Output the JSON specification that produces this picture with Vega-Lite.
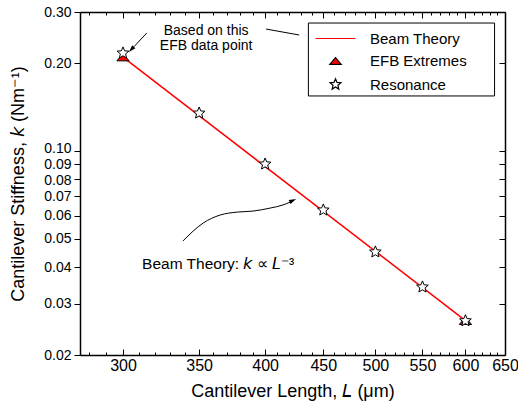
{
  "$schema": "https://vega.github.io/schema/vega-lite/v6.json",
  "width": 425,
  "height": 343,
  "autosize": "none",
  "padding": {"left": 80, "top": 12, "right": 13, "bottom": 57},
  "background": "white",
  "config": {
    "font": "Liberation Sans",
    "view": {"stroke": null},
    "axis": {"domainColor": "black", "tickColor": "black", "labelColor": "black", "titleColor": "black", "grid": false, "labelFont": "Liberation Sans", "titleFont": "Liberation Sans", "titleFontWeight": "normal", "domainWidth": 1.5, "tickWidth": 1}
  },
  "datasets": {
    "beam": [{"L": 300, "k": 0.21}, {"L": 600, "k": 0.02625}],
    "points": [
      {"L": 300, "k": 0.21, "series": "EFB Extremes"},
      {"L": 600, "k": 0.0262, "series": "EFB Extremes"},
      {"L": 300, "k": 0.217, "series": "Resonance"},
      {"L": 350, "k": 0.135, "series": "Resonance"},
      {"L": 400, "k": 0.0903, "series": "Resonance"},
      {"L": 450, "k": 0.0628, "series": "Resonance"},
      {"L": 500, "k": 0.0451, "series": "Resonance"},
      {"L": 550, "k": 0.0342, "series": "Resonance"},
      {"L": 600, "k": 0.0262, "series": "Resonance"}
    ],
    "noteTop": [
      {"L": 355, "k": 0.258, "text": "Based on this"},
      {"L": 355, "k": 0.229, "text": "EFB data point"}
    ],
    "noteBeam": [{"L": 311.8, "k": 0.041, "text": "Beam Theory: 𝘬 ∝ 𝘓⁻³"}],
    "leaders": [
      {"id": "a", "L": 314.8, "k": 0.2542},
      {"id": "a", "L": 306.7, "k": 0.228},
      {"id": "b", "L": 338.7, "k": 0.0492},
      {"id": "b", "L": 352.9, "k": 0.0567},
      {"id": "b", "L": 365.2, "k": 0.0604},
      {"id": "b", "L": 378.0, "k": 0.0618},
      {"id": "b", "L": 390.3, "k": 0.0623},
      {"id": "b", "L": 404.1, "k": 0.0638},
      {"id": "b", "L": 414.8, "k": 0.0654},
      {"id": "b", "L": 420.9, "k": 0.0669},
      {"id": "c", "L": 400.8, "k": 0.2622},
      {"id": "c", "L": 428.5, "k": 0.2502}
    ],
    "headA": [{"L": 305.3, "k": 0.2239}],
    "headB": [{"L": 422.8, "k": 0.0676}],
    "legendBox": [{"L1": 436.6, "L2": 636.4, "k1": 0.275, "k2": 0.1546}]
  },
  "layer": [
    {
      "data": {"name": "beam"},
      "mark": {"type": "line", "color": "#ff0000", "strokeWidth": 1.5},
      "encoding": {
        "x": {"field": "L", "type": "quantitative", "scale": {"type": "log", "domain": [275, 650], "nice": false},
          "axis": {"orient": "bottom", "values": [280,290,300,310,320,330,340,350,360,370,380,390,400,410,420,430,440,450,460,470,480,490,500,510,520,530,540,550,560,570,580,590,600,610,620,630,640,650],
            "format": "d", "labelExpr": "datum.value % 50 === 0 ? datum.label : ''",
            "tickSize": {"condition": {"test": "datum.value % 50 === 0", "value": -6}, "value": -3},
            "labelPadding": 8, "labelFontSize": 16, "labelOverlap": false, "labelFlush": false,
            "title": "Cantilever Length, 𝘓 (μm)", "titleFontSize": 18, "titlePadding": 6}},
        "y": {"field": "k", "type": "quantitative", "scale": {"type": "log", "domain": [0.02, 0.3], "nice": false},
          "axis": {"orient": "left", "values": [0.02,0.03,0.04,0.05,0.06,0.07,0.08,0.09,0.1,0.2,0.3], "format": ".2f",
            "tickSize": 6, "labelPadding": 3, "labelFontSize": 14, "labelOverlap": false, "labelFlush": false,
            "labelOffset": {"condition": [{"test": "datum.value === 0.1", "value": -2.2}, {"test": "datum.value === 0.08", "value": 0.6}], "value": 0},
            "title": "Cantilever Stiffness, 𝘬 (Nm⁻¹)", "titleFontSize": 18, "titlePadding": 16}}
      }
    },
    {
      "data": {"name": "legendBox"},
      "mark": {"type": "rect", "fill": "white", "stroke": "black", "strokeWidth": 1},
      "encoding": {
        "x": {"field": "L1", "type": "quantitative", "scale": {"type": "log", "domain": [275, 650], "nice": false},
          "axis": {"orient": "top", "values": [280,290,300,310,320,330,340,350,360,370,380,390,400,410,420,430,440,450,460,470,480,490,500,510,520,530,540,550,560,570,580,590,600,610,620,630,640,650],
            "labels": false, "title": null,
            "tickSize": {"condition": {"test": "datum.value % 50 === 0", "value": -6}, "value": -3}}},
        "x2": {"field": "L2"},
        "y": {"field": "k1", "type": "quantitative", "scale": {"type": "log", "domain": [0.02, 0.3], "nice": false},
          "axis": {"orient": "right", "values": [0.02,0.03,0.04,0.05,0.06,0.07,0.08,0.09,0.1,0.2,0.3], "labels": false, "title": null, "tickSize": -6}},
        "y2": {"field": "k2"}
      }
    },
    {
      "data": {"name": "points"},
      "mark": {"type": "point", "size": 150, "strokeWidth": 1, "opacity": 1},
      "encoding": {
        "x": {"field": "L", "type": "quantitative", "scale": {"type": "log", "domain": [275, 650], "nice": false}, "axis": null},
        "y": {"field": "k", "type": "quantitative", "scale": {"type": "log", "domain": [0.02, 0.3], "nice": false}, "axis": null},
        "shape": {"field": "series", "type": "nominal",
          "scale": {"domain": ["Beam Theory", "EFB Extremes", "Resonance"],
            "range": ["M-3.5,0L3.5,0", "M0,-0.6L1,0.6L-1,0.6Z", "M0,-1L0.265,-0.364L0.951,-0.309L0.428,0.139L0.588,0.809L0,0.45L-0.588,0.809L-0.428,0.139L-0.951,-0.309L-0.265,-0.364Z"]},
          "legend": {"orient": "none", "legendX": 228, "legendY": 11, "title": null, "strokeColor": null, "fillColor": null,
            "padding": 8, "symbolOffset": 12, "labelOffset": 27, "labelFontSize": 15, "labelFont": "Liberation Sans", "labelColor": "black",
            "rowPadding": 6.5, "symbolSize": 130, "symbolStrokeWidth": 1.2}},
        "fill": {"field": "series", "type": "nominal", "scale": {"domain": ["Beam Theory", "EFB Extremes", "Resonance"], "range": ["transparent", "#ff0000", "white"]}},
        "stroke": {"field": "series", "type": "nominal", "scale": {"domain": ["Beam Theory", "EFB Extremes", "Resonance"], "range": ["#ff0000", "black", "black"]}}
      }
    },
    {
      "data": {"name": "leaders"},
      "mark": {"type": "line", "color": "black", "strokeWidth": 1, "interpolate": "monotone"},
      "encoding": {
        "x": {"field": "L", "type": "quantitative", "scale": {"type": "log", "domain": [275, 650], "nice": false}, "axis": null},
        "y": {"field": "k", "type": "quantitative", "scale": {"type": "log", "domain": [0.02, 0.3], "nice": false}, "axis": null},
        "detail": {"field": "id"}
      }
    },
    {
      "data": {"name": "headA"},
      "mark": {"type": "point", "shape": "M0,-1L0.55,0.8L-0.55,0.8Z", "size": 64, "filled": true, "color": "black", "opacity": 1, "angle": 223},
      "encoding": {
        "x": {"field": "L", "type": "quantitative", "scale": {"type": "log", "domain": [275, 650], "nice": false}, "axis": null},
        "y": {"field": "k", "type": "quantitative", "scale": {"type": "log", "domain": [0.02, 0.3], "nice": false}, "axis": null}
      }
    },
    {
      "data": {"name": "headB"},
      "mark": {"type": "point", "shape": "M0,-1L0.55,0.8L-0.55,0.8Z", "size": 64, "filled": true, "color": "black", "opacity": 1, "angle": 65},
      "encoding": {
        "x": {"field": "L", "type": "quantitative", "scale": {"type": "log", "domain": [275, 650], "nice": false}, "axis": null},
        "y": {"field": "k", "type": "quantitative", "scale": {"type": "log", "domain": [0.02, 0.3], "nice": false}, "axis": null}
      }
    },
    {
      "data": {"name": "noteTop"},
      "mark": {"type": "text", "fontSize": 14, "align": "center", "baseline": "middle", "color": "black", "font": "Liberation Sans"},
      "encoding": {
        "x": {"field": "L", "type": "quantitative", "scale": {"type": "log", "domain": [275, 650], "nice": false}, "axis": null},
        "y": {"field": "k", "type": "quantitative", "scale": {"type": "log", "domain": [0.02, 0.3], "nice": false}, "axis": null},
        "text": {"field": "text"}
      }
    },
    {
      "data": {"name": "noteBeam"},
      "mark": {"type": "text", "fontSize": 15.5, "align": "left", "baseline": "middle", "color": "black", "font": "Liberation Sans"},
      "encoding": {
        "x": {"field": "L", "type": "quantitative", "scale": {"type": "log", "domain": [275, 650], "nice": false}, "axis": null},
        "y": {"field": "k", "type": "quantitative", "scale": {"type": "log", "domain": [0.02, 0.3], "nice": false}, "axis": null},
        "text": {"field": "text"}
      }
    }
  ],
  "resolve": {"axis": {"x": "independent", "y": "independent"}}
}
